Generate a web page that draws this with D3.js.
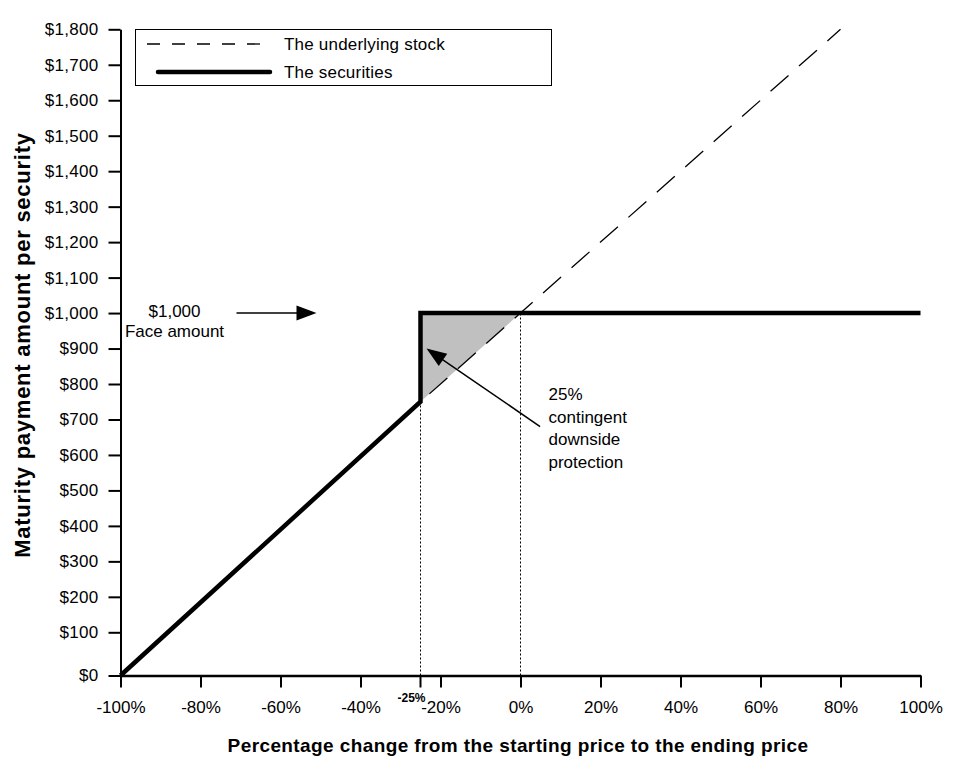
<!DOCTYPE html>
<html>
<head>
<meta charset="utf-8">
<script src="https://cdn.jsdelivr.net/npm/d3@7/dist/d3.min.js"></script>
<style>
  html, body { margin: 0; padding: 0; background: #fff; }
  svg { display: block; font-family: "Liberation Sans", Arial, sans-serif; }
</style>
</head>
<body>
<svg id="chart" width="956" height="770"></svg>
<script>
// ---- data ----
const xTicks = [-100, -80, -60, -40, -20, 0, 20, 40, 60, 80, 100];
const yTicks = [0, 100, 200, 300, 400, 500, 600, 700, 800, 900, 1000, 1100, 1200, 1300, 1400, 1500, 1600, 1700, 1800];
const stockX = [-100, -25, 0, 80];
const stockY = [0, 750, 1000, 1800];
const secX = [-100, -25, -25, 100];
const secY = [0, 750, 1000, 1000];
const shadeX = [-25, 0, -25];
const shadeY = [1000, 1000, 750];
const barrier = -25;
const faceAmount = 1000;
const seriesNames = ["The underlying stock", "The securities"];
const protectionLines = ["25%", "contingent", "downside", "protection"];

// ---- scales ----
const svg = d3.select("#chart");
const x = d3.scaleLinear().domain([-100, 100]).range([120.5, 920.5]);
const y = d3.scaleLinear().domain([0, 100, 1800]).range([675.5, 632.3, 29.3]);

// shaded protection area
svg.append("path")
  .datum(shadeX.map((d, i) => [d, shadeY[i]]))
  .attr("d", d3.line().x(d => x(d[0])).y(d => y(d[1])))
  .attr("fill", "#c0c0c0").attr("stroke", "none");

// dotted verticals
[[barrier, 750], [0, faceAmount]].forEach(([px, py]) => {
  svg.append("line")
    .attr("x1", x(px)).attr("x2", x(px))
    .attr("y1", y(0)).attr("y2", y(py))
    .attr("stroke", "#000").attr("stroke-width", 1)
    .attr("stroke-dasharray", "2,2");
});

// underlying stock dashed line
svg.append("path")
  .datum(stockX.map((d, i) => [d, stockY[i]]))
  .attr("d", d3.line().x(d => x(d[0])).y(d => y(d[1])))
  .attr("fill", "none").attr("stroke", "#000").attr("stroke-width", 1.3)
  .attr("stroke-dasharray", "24,14");

// securities thick line
svg.append("path")
  .datum(secX.map((d, i) => [d, secY[i]]))
  .attr("d", d3.line().x(d => x(d[0])).y(d => y(d[1])))
  .attr("fill", "none").attr("stroke", "#000").attr("stroke-width", 4.5)
  .attr("stroke-linejoin", "miter");

// ---- axes ----
const yAxis = svg.append("g")
  .attr("transform", `translate(${x(-100)},0)`)
  .call(d3.axisLeft(y).tickValues(yTicks).tickSize(12).tickSizeOuter(0).tickPadding(10)
    .tickFormat(d => "$" + d3.format(",")(d)));
yAxis.select(".domain").attr("stroke-width", 2);
yAxis.selectAll(".tick line").attr("stroke-width", 2);
yAxis.selectAll("text").attr("font-size", 17).attr("fill", "#000")
  .style("letter-spacing", "0.3px")
  .style("font-family", "'Liberation Sans', Arial, sans-serif");

const xAxis = svg.append("g")
  .attr("transform", `translate(0,${y(0)})`)
  .call(d3.axisBottom(x).tickValues(xTicks).tickSize(12).tickSizeOuter(0).tickPadding(13)
    .tickFormat(d => d + "%"));
xAxis.select(".domain").attr("stroke-width", 2.5);
xAxis.selectAll(".tick line").attr("stroke-width", 2);
xAxis.selectAll("text").attr("font-size", 17).attr("fill", "#000")
  .style("font-family", "'Liberation Sans', Arial, sans-serif");

// barrier tick & label
svg.append("line")
  .attr("x1", x(barrier)).attr("x2", x(barrier))
  .attr("y1", y(0)).attr("y2", y(0) + 12)
  .attr("stroke", "#000").attr("stroke-width", 2);
svg.append("text")
  .attr("x", x(barrier) - 9).attr("y", y(0) + 26)
  .attr("text-anchor", "middle").attr("font-size", 12).attr("font-weight", "bold")
  .text(barrier + "%");

// ---- axis titles ----
svg.append("text")
  .attr("transform", "translate(30,345) rotate(-90)")
  .attr("text-anchor", "middle").attr("font-size", 22).attr("font-weight", "bold")
  .style("letter-spacing", "0.75px")
  .text("Maturity payment amount per security");
svg.append("text")
  .attr("x", 518).attr("y", 752)
  .attr("text-anchor", "middle").attr("font-size", 19).attr("font-weight", "bold")
  .style("letter-spacing", "0.4px")
  .text("Percentage change from the starting price to the ending price");

// ---- legend ----
const lg = svg.append("g");
lg.append("rect").attr("x", 135.5).attr("y", 29.5).attr("width", 416).attr("height", 56)
  .attr("fill", "#fff").attr("stroke", "#000").attr("stroke-width", 1);
lg.append("line").attr("x1", 147).attr("x2", 272).attr("y1", 44).attr("y2", 44)
  .attr("stroke", "#000").attr("stroke-width", 1.3).attr("stroke-dasharray", "13,12");
lg.append("line").attr("x1", 158).attr("x2", 270).attr("y1", 72).attr("y2", 72)
  .attr("stroke", "#000").attr("stroke-width", 4.5).attr("stroke-linecap", "round");
lg.selectAll("text.leg").data(seriesNames).join("text")
  .attr("x", 284).attr("y", (d, i) => 50 + i * 27.5)
  .attr("font-size", 17).style("letter-spacing", "0.2px").text(d => d);

// ---- annotations ----
const arrowHead = (x1, y1, x2, y2, len, half) => {
  const a = Math.atan2(y2 - y1, x2 - x1);
  const bx = x2 - len * Math.cos(a), by = y2 - len * Math.sin(a);
  const nx = -Math.sin(a) * half, ny = Math.cos(a) * half;
  return `M${x2},${y2}L${bx + nx},${by + ny}L${bx - nx},${by - ny}Z`;
};
const drawArrow = (fx, fy, tx, ty) => {
  const x1 = x(fx), y1 = y(fy), x2 = x(tx), y2 = y(ty);
  const a = Math.atan2(y2 - y1, x2 - x1);
  svg.append("line").attr("x1", x1).attr("y1", y1)
    .attr("x2", x2 - 15 * Math.cos(a)).attr("y2", y2 - 15 * Math.sin(a))
    .attr("stroke", "#000").attr("stroke-width", 1.5);
  svg.append("path").attr("d", arrowHead(x1, y1, x2, y2, 20, 7.5)).attr("fill", "#000");
};
drawArrow(-71, faceAmount, -51, faceAmount);
drawArrow(4.9, 680, -23.5, 900);

svg.append("text").attr("x", x(-86.5)).attr("y", 317).attr("text-anchor", "middle")
  .attr("font-size", 17).text("$1,000");
svg.append("text").attr("x", x(-86.5)).attr("y", 337).attr("text-anchor", "middle")
  .attr("font-size", 17).text("Face amount");
svg.selectAll("text.prot").data(protectionLines).join("text")
  .attr("x", x(7)).attr("y", (d, i) => 400 + i * 22.5)
  .attr("font-size", 17).text(d => d);
</script>
</body>
</html>
